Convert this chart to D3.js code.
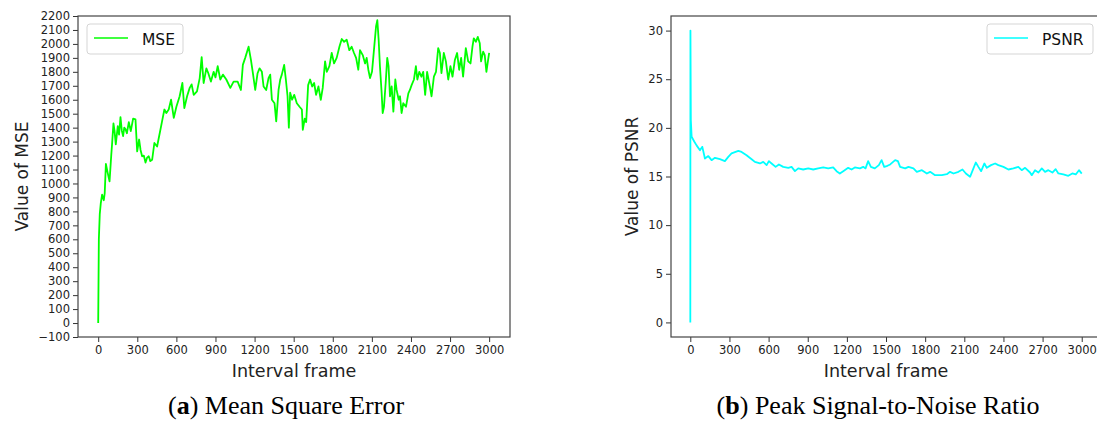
<!DOCTYPE html>
<html>
<head>
<meta charset="utf-8">
<script src="https://cdn.jsdelivr.net/npm/d3@7"></script>
<style>
  html, body { margin: 0; padding: 0; background: #fff; }
  svg { display: block; }
</style>
</head>
<body>
<svg id="chart" width="1097" height="421"></svg>
<script>
// ---- data ----
const xTicks = [0, 300, 600, 900, 1200, 1500, 1800, 2100, 2400, 2700, 3000];
const mseYTicks = [-100, 0, 100, 200, 300, 400, 500, 600, 700, 800, 900, 1000, 1100, 1200, 1300, 1400, 1500, 1600, 1700, 1800, 1900, 2000, 2100, 2200];
const psnrYTicks = [0, 5, 10, 15, 20, 25, 30];

const mseFrames = [0, 5, 12, 20, 30, 43, 50, 59, 72, 87, 100, 107, 117, 125, 135, 150, 160, 171, 181, 191, 200, 209, 220, 235, 250, 268, 286, 299, 314, 325, 337, 350, 363, 375, 388, 400, 414, 431, 452, 472, 490, 508, 523, 541, 559, 580, 600, 625, 646, 661, 682, 702, 717, 733, 758, 779, 794, 809, 830, 845, 865, 886, 900, 917, 937, 957, 983, 1014, 1039, 1070, 1095, 1110, 1128, 1154, 1172, 1187, 1205, 1223, 1238, 1256, 1269, 1289, 1307, 1320, 1333, 1353, 1366, 1384, 1397, 1409, 1427, 1440, 1453, 1463, 1473, 1488, 1504, 1524, 1545, 1563, 1570, 1585, 1596, 1611, 1626, 1642, 1657, 1672, 1690, 1708, 1723, 1741, 1754, 1774, 1792, 1810, 1830, 1851, 1869, 1887, 1907, 1927, 1945, 1963, 1979, 1996, 2009, 2030, 2048, 2060, 2073, 2086, 2101, 2116, 2132, 2142, 2152, 2162, 2175, 2183, 2193, 2206, 2218, 2228, 2239, 2252, 2265, 2280, 2290, 2306, 2316, 2328, 2341, 2362, 2380, 2392, 2405, 2423, 2438, 2449, 2464, 2480, 2494, 2509, 2524, 2545, 2558, 2576, 2592, 2609, 2622, 2634, 2652, 2668, 2686, 2703, 2719, 2737, 2754, 2770, 2785, 2800, 2821, 2839, 2857, 2872, 2882, 2898, 2913, 2928, 2938, 2954, 2966, 2979, 2992, 3000];
const mseValues = [0, 600, 780, 860, 920, 880, 930, 1140, 1080, 1015, 1200, 1290, 1430, 1380, 1280, 1410, 1350, 1475, 1380, 1340, 1400, 1390, 1360, 1440, 1375, 1465, 1460, 1230, 1315, 1240, 1195, 1200, 1150, 1185, 1195, 1160, 1170, 1290, 1265, 1360, 1445, 1530, 1505, 1530, 1600, 1470, 1550, 1625, 1720, 1540, 1625, 1685, 1710, 1635, 1660, 1755, 1905, 1720, 1825, 1790, 1730, 1800, 1760, 1840, 1745, 1780, 1745, 1685, 1730, 1730, 1670, 1850, 1900, 1980, 1885, 1790, 1670, 1790, 1825, 1800, 1695, 1670, 1755, 1780, 1600, 1575, 1445, 1670, 1745, 1780, 1850, 1745, 1625, 1400, 1650, 1600, 1635, 1575, 1550, 1530, 1385, 1465, 1440, 1705, 1745, 1695, 1720, 1635, 1695, 1600, 1685, 1875, 1800, 1840, 1935, 1860, 1900, 1980, 2035, 2015, 2030, 1955, 1980, 1935, 1900, 1815, 1955, 1920, 1860, 1900, 1815, 1755, 1800, 1955, 2125, 2170, 2030, 1840, 1650, 1505, 1550, 1720, 1900, 1840, 1625, 1695, 1515, 1745, 1670, 1600, 1625, 1505, 1575, 1550, 1645, 1670, 1705, 1745, 1840, 1745, 1800, 1765, 1800, 1635, 1800, 1695, 1625, 1765, 1800, 1970, 1935, 1790, 1935, 1875, 1745, 1840, 1765, 1885, 1935, 1815, 1900, 1765, 1970, 1875, 1860, 1980, 2040, 2015, 2050, 2005, 1875, 1945, 1920, 1800, 1885, 1935];

const psnrFrames = [0, 1, 4, 10, 30, 48, 74, 92, 112, 138, 163, 189, 227, 265, 291, 316, 368, 393, 431, 470, 495, 534, 559, 585, 602, 623, 654, 679, 712, 751, 776, 802, 827, 865, 904, 942, 980, 1019, 1057, 1095, 1121, 1146, 1172, 1210, 1236, 1261, 1300, 1325, 1343, 1363, 1384, 1414, 1445, 1466, 1486, 1511, 1532, 1570, 1591, 1608, 1647, 1672, 1710, 1736, 1775, 1813, 1838, 1876, 1928, 1966, 1991, 2017, 2055, 2086, 2112, 2144, 2170, 2188, 2208, 2229, 2254, 2272, 2305, 2336, 2361, 2400, 2438, 2476, 2514, 2540, 2566, 2604, 2617, 2642, 2668, 2694, 2719, 2744, 2775, 2800, 2821, 2859, 2897, 2928, 2954, 2979, 3000];
const psnrValues = [0, 30, 20.8, 19.1, 18.6, 18.2, 17.7, 18.05, 16.85, 17.1, 16.68, 16.92, 16.78, 16.58, 17.02, 17.37, 17.64, 17.53, 17.19, 16.78, 16.5, 16.34, 16.5, 16.17, 16.58, 16.34, 15.99, 16.24, 15.99, 15.89, 15.99, 15.55, 15.83, 15.72, 15.83, 15.72, 15.83, 15.93, 15.83, 15.93, 15.55, 15.31, 15.55, 15.89, 15.72, 15.93, 15.83, 15.99, 15.83, 16.58, 15.99, 15.83, 16.17, 16.68, 15.99, 16.1, 16.24, 16.68, 16.58, 15.99, 15.83, 15.99, 15.83, 15.48, 15.65, 15.31, 15.48, 15.14, 15.14, 15.24, 15.48, 15.31, 15.48, 15.72, 15.31, 14.97, 15.83, 16.44, 15.99, 15.55, 16.34, 15.89, 16.17, 16.34, 16.17, 15.99, 15.72, 15.83, 15.99, 15.65, 15.89, 15.41, 15.14, 15.65, 15.41, 15.83, 15.48, 15.65, 15.41, 15.76, 15.31, 15.21, 15.07, 15.31, 15.21, 15.65, 15.3];

const panels = [
  { name: "MSE", frames: mseFrames, values: mseValues, yTicks: mseYTicks, color: "#00ff00",
    xDomain: [-155, 3160], yDomain: [-100, 2200], left: 78, right: 510, labelCx: 294,
    yLabel: "Value of MSE", yLabelX: 22, captionX: 286, captionLetter: "a", captionText: " Mean Square Error",
    legend: { x: 87, w: 96 } },
  { name: "PSNR", frames: psnrFrames, values: psnrValues, yTicks: psnrYTicks, color: "#00ffff",
    xDomain: [-148, 3163], yDomain: [-1.5, 31.5], left: 671, right: 1103, labelCx: 886,
    yLabel: "Value of PSNR", yLabelX: 632, captionX: 878, captionLetter: "b", captionText: " Peak Signal-to-Noise Ratio",
    legend: { x: 987, w: 106 } }
];

const plotTop = 16, plotBottom = 337;
const svg = d3.select("#chart");
svg.append("rect").attr("width", 1097).attr("height", 421).attr("fill", "#fff");

const sansFont = "DejaVu Sans, sans-serif";

panels.forEach(p => {
  const x = d3.scaleLinear().domain(p.xDomain).range([p.left, p.right]);
  const y = d3.scaleLinear().domain(p.yDomain).range([plotBottom, plotTop]);
  const g = svg.append("g");

  // line
  const pts = p.frames.map((f, i) => [f, p.values[i]]);
  g.append("path")
    .datum(pts)
    .attr("fill", "none")
    .attr("stroke", p.color)
    .attr("stroke-width", 1.8)
    .attr("stroke-linejoin", "round")
    .attr("d", d3.line().x(d => x(d[0])).y(d => y(d[1])));

  // axes
  const xa = g.append("g").attr("transform", `translate(0,${plotBottom})`)
    .call(d3.axisBottom(x).tickValues(xTicks).tickSize(5).tickPadding(4).tickFormat(d3.format("d")));
  const ya = g.append("g").attr("transform", `translate(${p.left},0)`)
    .call(d3.axisLeft(y).tickValues(p.yTicks).tickSize(5).tickPadding(3).tickFormat(d => d < 0 ? "\u2212" + Math.abs(d) : d));
  [xa, ya].forEach(a => {
    a.select(".domain").remove();
    a.selectAll(".tick line").attr("stroke", "#333").attr("stroke-width", 1);
    a.selectAll(".tick text").attr("fill", "#222").style("font-family", sansFont).style("font-size", "11.5px");
  });

  // frame
  g.append("rect")
    .attr("x", p.left).attr("y", plotTop)
    .attr("width", p.right - p.left).attr("height", plotBottom - plotTop)
    .attr("fill", "none").attr("stroke", "#444").attr("stroke-width", 1.2);

  // axis labels
  g.append("text")
    .attr("x", p.labelCx)
    .attr("y", 377)
    .attr("text-anchor", "middle")
    .style("font-family", sansFont).style("font-size", "17.5px").attr("fill", "#222")
    .text("Interval frame");
  g.append("text")
    .attr("transform", `translate(${p.yLabelX},${(plotTop + plotBottom) / 2}) rotate(-90)`)
    .attr("text-anchor", "middle")
    .attr("dy", "0.35em")
    .style("font-family", sansFont).style("font-size", "17px").attr("fill", "#222")
    .text(p.yLabel);

  // legend
  const L = p.legend;
  const lg = g.append("g");
  lg.append("rect").attr("x", L.x).attr("y", 24).attr("width", L.w).attr("height", 30)
    .attr("rx", 3).attr("fill", "#fff").attr("fill-opacity", 0.8)
    .attr("stroke", "#d5d5d5").attr("stroke-width", 1);
  lg.append("line").attr("x1", L.x + 7).attr("x2", L.x + 41).attr("y1", 38).attr("y2", 38)
    .attr("stroke", p.color).attr("stroke-width", 1.6);
  lg.append("text").attr("x", L.x + 55).attr("y", 44.5)
    .style("font-family", sansFont).style("font-size", "15.5px").attr("fill", "#111")
    .text(p.name);

  // caption
  const cap = svg.append("text")
    .attr("x", p.captionX).attr("y", 414)
    .attr("text-anchor", "middle")
    .style("font-family", "Liberation Serif, serif").style("font-size", "26px").attr("fill", "#000");
  cap.append("tspan").text("(");
  cap.append("tspan").style("font-weight", "bold").text(p.captionLetter);
  cap.append("tspan").text(")" + p.captionText);
});
</script>
</body>
</html>
